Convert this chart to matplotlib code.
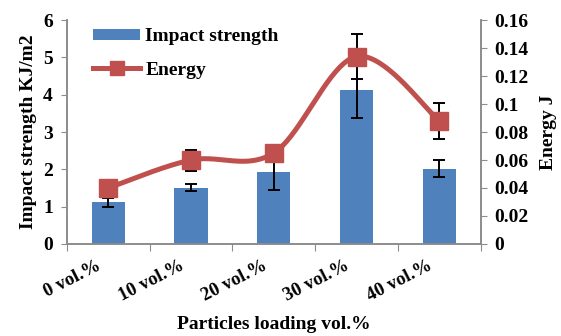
import numpy as np
import matplotlib
matplotlib.use("Agg")
import matplotlib.pyplot as plt
from matplotlib.lines import Line2D
from matplotlib.patches import Patch
from matplotlib.transforms import ScaledTranslation

categories = ["0 vol.%", "10 vol.%", "20 vol.%", "30 vol.%", "40 vol.%"]
impact = [1.12, 1.51, 1.94, 4.12, 2.02]
impact_err = [0.12, 0.09, 0.50, 0.73, 0.22]
energy = [0.040, 0.060, 0.065, 0.134, 0.088]
energy_err = [0.003, 0.0075, 0.003, 0.016, 0.0128]

BLUE = "#4F81BD"
RED = "#C0504D"
GREY = "#8c8c8c"

plt.rcParams["font.family"] = ["Liberation Serif", "DejaVu Serif"]
plt.rcParams["font.weight"] = "bold"

fig = plt.figure(figsize=(5.61, 3.36), dpi=100)
ax = fig.add_axes([0.119, 0.274, 0.738, 0.666])
ax2 = ax.twinx()

x = np.arange(len(categories))
ax.bar(x, impact, width=0.4, color=BLUE, zorder=2)
ax.errorbar(x, impact, yerr=impact_err, fmt="none", ecolor="black",
            elinewidth=1.4, capsize=4, capthick=1.4, zorder=3)


def smooth_curve(xs, ys, sx, sy, n=40):
    """Catmull-Rom style smoothing, evaluated in screen-like proportions."""
    px = np.asarray(xs, float) * sx
    py = np.asarray(ys, float) * sy
    pts = np.column_stack([px, py])
    ext = np.vstack([pts[0], pts, pts[-1]])
    out = []
    for i in range(1, len(ext) - 2):
        p0, p1, p2, p3 = ext[i - 1], ext[i], ext[i + 1], ext[i + 2]
        c1 = p1 + (p2 - p0) / 6.0
        c2 = p2 - (p3 - p1) / 6.0
        t = np.linspace(0, 1, n)[:, None]
        seg = ((1 - t) ** 3) * p1 + 3 * ((1 - t) ** 2) * t * c1 \
            + 3 * (1 - t) * t ** 2 * c2 + t ** 3 * p2
        out.append(seg if i == 1 else seg[1:])
    out = np.vstack(out)
    return out[:, 0] / sx, out[:, 1] / sy


cx, cy = smooth_curve(x, energy, 82.5, 224 / 0.16)
ax2.plot(cx, cy, color=RED, lw=3.6, zorder=3, solid_capstyle="round")
ax2.errorbar(x, energy, yerr=energy_err, fmt="none", ecolor="black",
             elinewidth=1.4, capsize=4, capthick=1.4, zorder=4)
ax2.plot(x, energy, linestyle="none", marker="s", markersize=13,
         color=RED, zorder=5)

ax.set_xlim(-0.5, len(categories) - 0.5)
ax.set_ylim(0, 6)
ax2.set_ylim(0, 0.16)
ax.set_yticks(np.arange(0, 7, 1))
ax2.set_yticks(np.arange(0, 0.161, 0.02))
ax2.set_yticklabels(["0"] + [f"{v:g}" for v in np.arange(0.02, 0.161, 0.02)])

ax.set_xticks(np.arange(-0.5, len(categories), 1.0))
ax.set_xticklabels([])
ax.set_xticks(x, minor=True)
ax.set_xticklabels(categories, minor=True, rotation=27, ha="right",
                   rotation_mode="anchor", fontsize=13.5, fontweight="bold")
ax.tick_params(axis="x", which="minor", length=0, pad=9)
ax.tick_params(axis="x", which="major", length=5, color=GREY, direction="out")
shift = ScaledTranslation(-0.12, -0.01, fig.dpi_scale_trans)
for lab in ax.get_xticklabels(minor=True):
    lab.set_transform(lab.get_transform() + shift)

for a in (ax, ax2):
    for s in a.spines.values():
        s.set_color(GREY)
        s.set_linewidth(1.2)
    a.spines["top"].set_visible(False)
ax.tick_params(axis="y", length=4, color=GREY, labelsize=14, pad=6)
ax2.tick_params(axis="y", length=4, color=GREY, labelsize=14, pad=6)
for lab in ax.get_yticklabels() + ax2.get_yticklabels():
    lab.set_fontweight("bold")

ax.set_ylabel("Impact strength KJ/m2", fontsize=14, fontweight="bold", labelpad=4)
ax2.set_ylabel("Energy J", fontsize=14, fontweight="bold", labelpad=8)
ax.set_xlabel("Particles loading vol.%", fontsize=14, fontweight="bold", labelpad=8)

handles = [Patch(facecolor=BLUE, edgecolor="none"),
           Line2D([], [], color=RED, lw=3.6, marker="s", markersize=10)]
leg = ax2.legend(handles, ["Impact strength", "Energy"], loc="upper left",
                 bbox_to_anchor=(0.063, 0.965), frameon=False, fontsize=14,
                 handlelength=2.45, handleheight=0.5, handletextpad=0.25,
                 labelspacing=0.85, borderaxespad=0, borderpad=0)
for t in leg.get_texts():
    t.set_fontweight("bold")

fig.savefig("out.png", dpi=100)
